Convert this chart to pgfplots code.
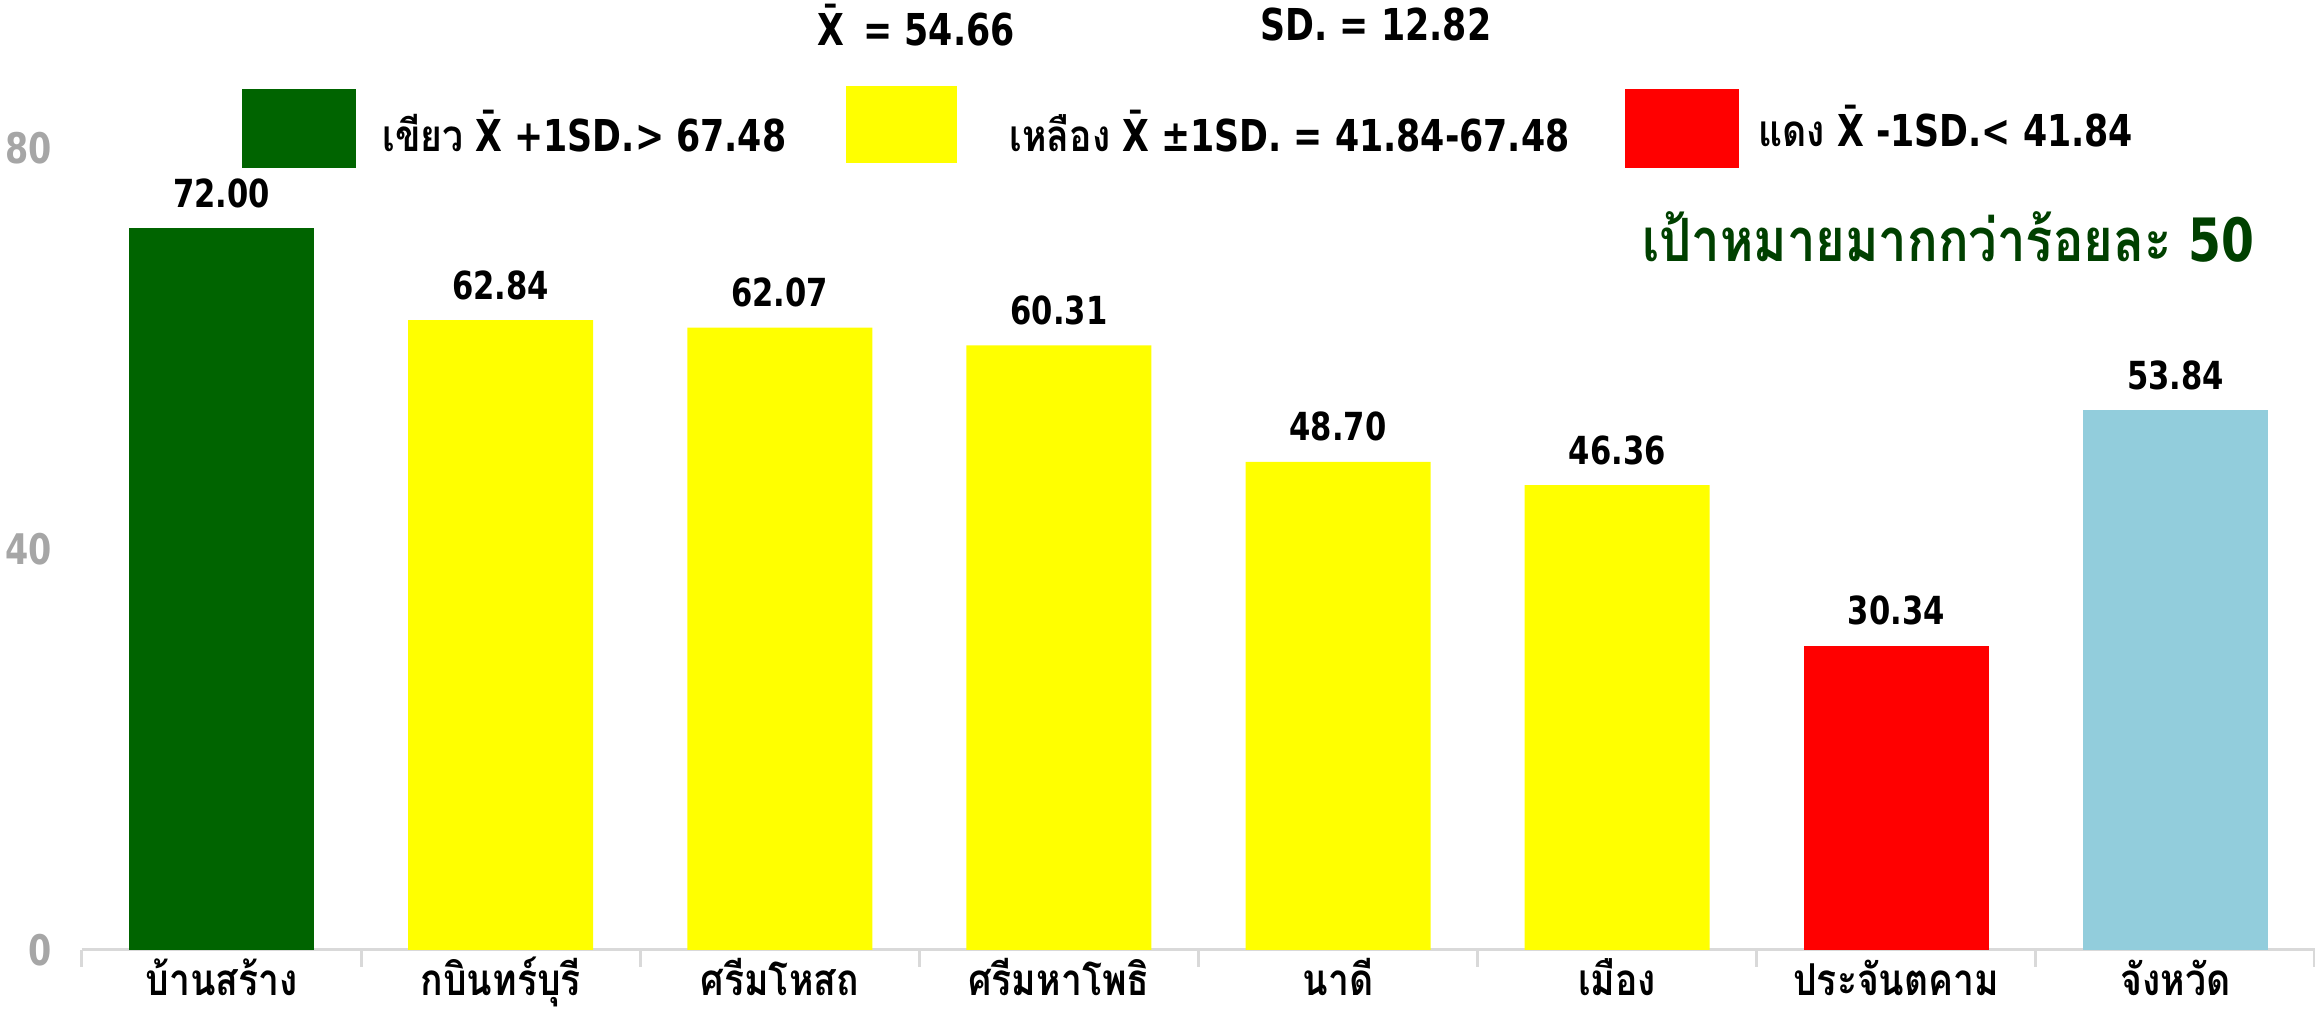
\documentclass[border=0pt]{standalone}
\usepackage{fontspec}
\usepackage{pgfplots}
\pgfplotsset{compat=1.18}
\setmainfont{DejaVu Sans Condensed}
\newfontfamily\narrow[FakeStretch=0.88]{DejaVu Sans Condensed}
\newfontfamily\thai[Script=Thai, FakeStretch=0.85]{Loma}
\definecolor{cgreen}{RGB}{0,100,0}
\definecolor{cyellow}{RGB}{255,255,0}
\definecolor{cred}{RGB}{255,0,0}
\definecolor{cblue}{RGB}{146,205,220}
\definecolor{ctarget}{RGB}{0,64,0}
\definecolor{caxis}{RGB}{217,217,217}
\definecolor{ctick}{RGB}{166,166,166}
\begin{document}
\begin{tikzpicture}[x=1mm,y=1mm]
\begin{axis}[
    at={(0,0)}, anchor=south west,
    scale only axis,
    width=223.3mm, height=80.2mm,
    ybar, bar width=18.5mm, bar shift=0pt,
    xmin=-0.5, xmax=7.5, ymin=0, ymax=80,
    clip=false,
    axis lines*=left,
    y axis line style={draw=none},
    x axis line style={caxis, line width=0.3mm},
    xtick={0,...,7},
    xticklabels={{\thai บ้านสร้าง},{\thai กบินทร์บุรี},{\thai ศรีมโหสถ},{\thai ศรีมหาโพธิ},{\thai นาดี},{\thai เมือง},{\thai ประจันตคาม},{\thai จังหวัด}},
    xticklabel style={font=\bfseries\fontsize{12.5}{14}\selectfont, anchor=base, text depth=0pt, inner sep=0pt, yshift=-4.6mm},
    minor xtick={-0.5,0.5,...,7.5},
    major tick length=0pt,
    minor tick length=1.7mm,
    tick align=outside,
    minor tick style={caxis, line width=0.3mm},
    ytick={0,40,80},
    yticklabel style={text=ctick, font=\narrow\bfseries\fontsize{12}{14}\selectfont, xshift=-1.8mm},
    /pgf/number format/assume math mode=true,
    nodes near coords={\pgfmathprintnumber[fixed,fixed zerofill,precision=2]{\pgfplotspointmeta}},
    nodes near coords style={font=\narrow\bfseries\fontsize{11}{13}\selectfont, text=black, yshift=0.8mm},
]
\addplot[fill=cgreen, draw=none] coordinates {(0,72.00)};
\addplot[fill=cyellow, draw=none] coordinates {(1,62.84) (2,62.07) (3,60.31) (4,48.70) (5,46.36)};
\addplot[fill=cred, draw=none] coordinates {(6,30.34)};
\addplot[fill=cblue, draw=none] coordinates {(7,53.84)};
\end{axis}
% header
\node[font=\narrow\bfseries\fontsize{12.5}{14}\selectfont] at (83.4,92.5) {\=X\, = 54.66};
\node[font=\narrow\bfseries\fontsize{12.5}{14}\selectfont] at (129.4,92.5) {SD. = 12.82};
% colour key
\fill[cgreen] (16.0,78.2) rectangle (27.4,86.1);
\node[anchor=west, font=\narrow\bfseries\fontsize{12.5}{15}\selectfont] at (28.8,81.9) {{\thai เขียว} \=X +1SD.> 67.48};
\fill[cyellow] (76.4,78.7) rectangle (87.5,86.4);
\node[anchor=west, font=\narrow\bfseries\fontsize{12.5}{15}\selectfont] at (91.5,81.9) {{\thai เหลือง} \=X ±1SD. = 41.84-67.48};
\fill[cred] (154.3,78.2) rectangle (165.7,86.1);
\node[anchor=west, font=\narrow\bfseries\fontsize{12.5}{15}\selectfont] at (166.4,82.4) {{\thai แดง} \=X -1SD.< 41.84};
\node[text=ctarget, font=\narrow\bfseries\fontsize{17}{20}\selectfont] at (186.6,71.3) {{\thai เป้าหมายมากกว่าร้อยละ} 50};
\pgfresetboundingbox
\path (-8.2,-5.9) rectangle (223.3,95.0);
\end{tikzpicture}
\end{document}
